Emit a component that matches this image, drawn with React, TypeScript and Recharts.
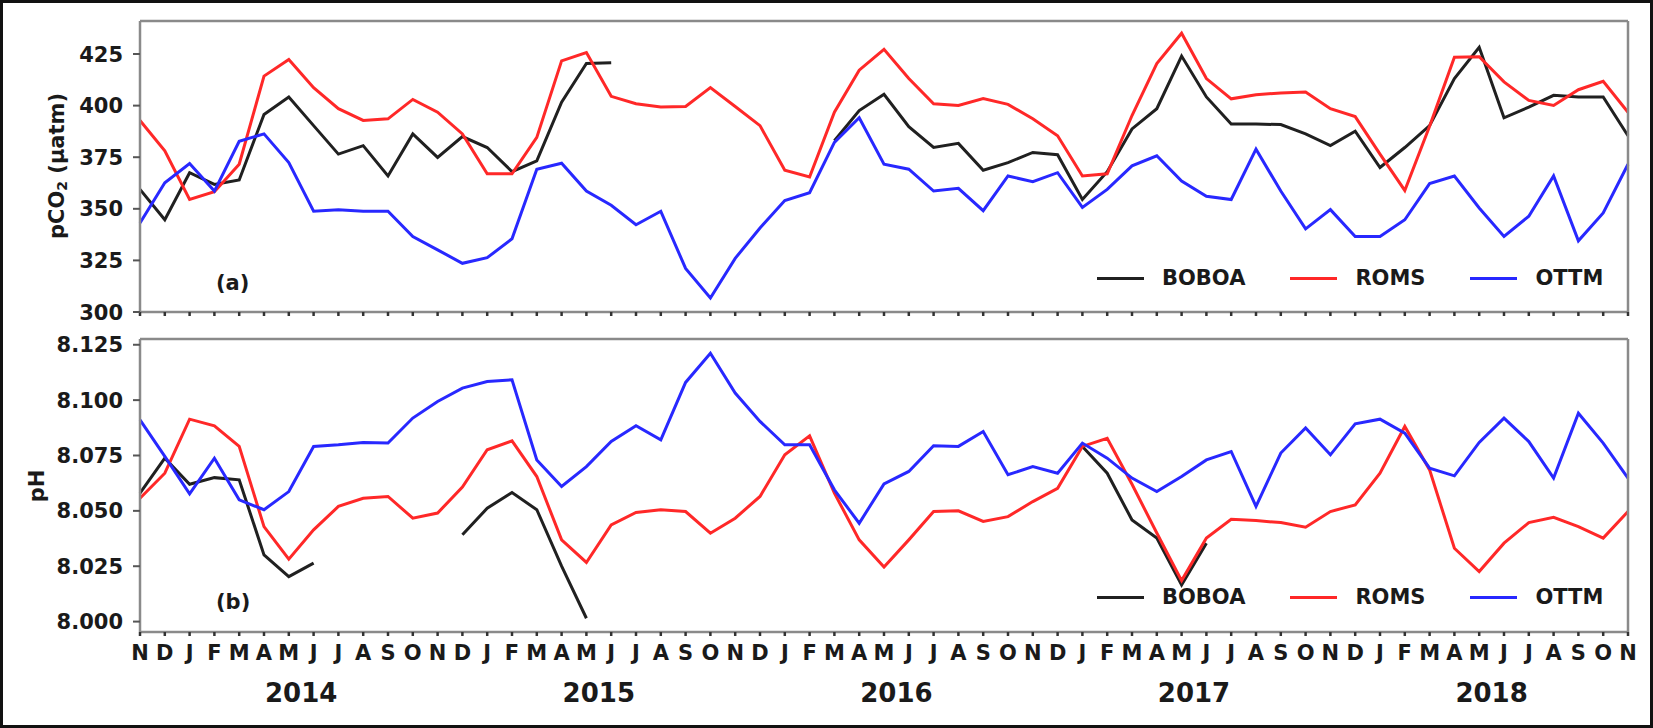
import React from 'react';
import { LineChart, Line, XAxis, YAxis, Legend } from 'recharts';

const MONTHS = [
  'N', 'D',
  'J', 'F', 'M', 'A', 'M', 'J', 'J', 'A', 'S', 'O', 'N', 'D',
  'J', 'F', 'M', 'A', 'M', 'J', 'J', 'A', 'S', 'O', 'N', 'D',
  'J', 'F', 'M', 'A', 'M', 'J', 'J', 'A', 'S', 'O', 'N', 'D',
  'J', 'F', 'M', 'A', 'M', 'J', 'J', 'A', 'S', 'O', 'N', 'D',
  'J', 'F', 'M', 'A', 'M', 'J', 'J', 'A', 'S', 'O', 'N',
];
const YEARS = ['2014', '2015', '2016', '2017', '2018'];
const YEAR_AT = [6, 18, 30, 42, 54];

const PCO2_BOBOA = [
  359.4, 344.7, 367.5, 361.8, 364.0, 395.7, 404.2, 390.3, 376.5, 380.6, 365.9, 386.3, 374.9, 385.0,
  379.7, 368.0, 373.2, 401.7, 420.4, 420.8, null, null, null, null, null, null, null, null,
  383.0, 397.6, 405.5, 389.8, 379.7, 381.7, 368.7, 372.4, 377.3, 376.2, 354.5,
  368.0, 388.7, 398.5, 424.0, 404.2, 391.1, 391.1, 390.8, 386.3, 380.6, 387.6, 370.0,
  379.7, 390.3, 413.1, 428.3, 394.1, 399.3, 405.0, 404.2, 404.2, 385.4,
];
const PCO2_ROMS = [
  392.8, 378.1, 354.5, 358.3, 371.6, 414.3, 422.4, 408.7, 398.5, 392.8, 393.6, 403.0, 396.8, 386.3,
  367.0, 367.0, 384.6, 421.7, 425.7, 404.5, 400.9, 399.3, 399.6, 408.7, 399.6, 390.3, 368.7, 365.4,
  396.8, 417.2, 427.3, 413.1, 400.9, 400.1, 403.4, 400.6, 393.6, 385.4, 365.9,
  367.0, 395.2, 420.4, 435.1, 413.1, 403.3, 405.3, 406.1, 406.6, 398.5, 394.7, 376.5,
  358.9, 390.0, 423.4, 423.7, 411.5, 402.5, 400.1, 407.7, 411.8, 396.8,
];
const PCO2_OTTM = [
  343.1, 362.6, 371.9, 358.6, 382.7, 386.3, 372.4, 348.8, 349.6, 348.8, 348.8, 336.6, 330.1, 323.6,
  326.3, 335.5, 369.2, 372.1, 358.6, 351.7, 342.3, 348.8, 321.1, 306.8, 326.0, 340.7, 354.0, 357.8,
  382.2, 394.1, 371.6, 369.2, 358.6, 359.9, 349.1, 365.9, 363.1, 367.5, 350.7,
  359.4, 370.8, 375.7, 363.5, 356.1, 354.5, 378.9, 358.6, 340.3, 349.6, 336.6, 336.6,
  344.7, 362.2, 365.9, 350.4, 336.6, 346.4, 365.9, 334.5, 348.0, 371.6,
];

const PH_BOBOA = [
  8.058, 8.0738, 8.062, 8.065, 8.064, 8.0301, 8.0203, 8.0264, null, null, null, null, null, 8.0392,
  8.0512, 8.0583, 8.0505, 8.025, 8.0015, null, null, null, null, null, null, null, null, null,
  null, null, null, null, null, null, null, null, null, null, 8.0791,
  8.067, 8.0459, 8.0377, 8.0166, 8.0354, null, null, null, null, null, null, null,
  null, null, null, null, null, null, null, null, null, null,
];
const PH_ROMS = [
  8.0557, 8.067, 8.0914, 8.0884, 8.0791, 8.0429, 8.0282, 8.0414, 8.052, 8.0557, 8.0565, 8.0467, 8.049, 8.0607,
  8.0776, 8.0816, 8.0655, 8.0369, 8.0267, 8.0437, 8.0493, 8.0505, 8.0497, 8.0399, 8.0467, 8.0565, 8.0753, 8.0839,
  8.058, 8.0369, 8.0246, 8.0369, 8.0497, 8.05, 8.0452, 8.0474, 8.0542, 8.0602, 8.0791,
  8.0828, 8.062, 8.040, 8.0185, 8.0377, 8.0462, 8.0456, 8.0447, 8.0426, 8.0497, 8.0527, 8.067,
  8.0881, 8.0685, 8.0331, 8.0226, 8.0354, 8.0447, 8.0471, 8.0429, 8.0377, 8.0497,
];
const PH_OTTM = [
  8.0911, 8.0746, 8.0577, 8.0738, 8.055, 8.0505, 8.0587, 8.0791, 8.0798, 8.0809, 8.0806, 8.0919, 8.0994, 8.1054,
  8.1084, 8.1092, 8.073, 8.061, 8.070, 8.0813, 8.0884, 8.0821, 8.108, 8.1212, 8.1032, 8.0904, 8.0798, 8.0798,
  8.0595, 8.0444, 8.0622, 8.0678, 8.0794, 8.0791, 8.0858, 8.0663, 8.070, 8.067, 8.0806,
  8.0738, 8.0648, 8.0587, 8.0655, 8.073, 8.0768, 8.052, 8.0761, 8.0874, 8.0753, 8.0893, 8.0914,
  8.0851, 8.0693, 8.0658, 8.0809, 8.0919, 8.0813, 8.0648, 8.0941, 8.0806, 8.0648,
];

const PCO2_TICKS = [300, 325, 350, 375, 400, 425];
const PH_TICKS = [8.0, 8.025, 8.05, 8.075, 8.1, 8.125];

const SERIES = [
  { name: 'BOBOA', color: '#202020' },
  { name: 'ROMS', color: '#ff2828' },
  { name: 'OTTM', color: '#2828ff' },
];

const data = MONTHS.map((m, i) => ({
  i,
  m,
  pb: PCO2_BOBOA[i],
  pr: PCO2_ROMS[i],
  po: PCO2_OTTM[i],
  hb: PH_BOBOA[i],
  hr: PH_ROMS[i],
  ho: PH_OTTM[i],
}));
const X_TICKS = data.map((d) => d.i);

const FONT = '"DejaVu Sans", Verdana, sans-serif';
const TXT = '#1a1a1a';
const SPINE = '#8a8a8a';
const PLOT_L = 140;
const PLOT_R = 1628;
const STEP = (PLOT_R - PLOT_L) / (MONTHS.length - 1);

function EmptyTick() {
  return <g />;
}

function MonthTick(props: any) {
  const { x, y, payload } = props;
  const i = payload.value as number;
  const yi = YEAR_AT.indexOf(i);
  return (
    <g>
      <text x={x} y={y + 22} textAnchor="middle" fontFamily={FONT} fontWeight="bold" fontSize={21} fill={TXT}>
        {MONTHS[i]}
      </text>
      {yi >= 0 && (
        <text x={x + STEP / 2} y={y + 64} textAnchor="middle" fontFamily={FONT} fontWeight="bold" fontSize={26} fill={TXT}>
          {YEARS[yi]}
        </text>
      )}
    </g>
  );
}

function makeYTick(digits: number) {
  return (props: any) => {
    const { x, y, payload } = props;
    return (
      <text x={x} y={y} dy="0.36em" textAnchor="end" fontFamily={FONT} fontWeight="bold" fontSize={21} fill={TXT}>
        {Number(payload.value).toFixed(digits)}
      </text>
    );
  };
}

function LegendContent() {
  return (
    <div style={{ display: 'flex', alignItems: 'center', fontFamily: FONT, fontWeight: 'bold', fontSize: 21, color: TXT, whiteSpace: 'nowrap' }}>
      {SERIES.map((s, k) => (
        <div key={s.name} style={{ display: 'flex', alignItems: 'center', marginRight: k < SERIES.length - 1 ? 45 : 0 }}>
          <div style={{ width: 47, height: 3, background: s.color, marginRight: 18 }} />
          <span>{s.name}</span>
        </div>
      ))}
    </div>
  );
}

function PcoLabel(props: any) {
  const cx = 57;
  const cy = 166;
  return (
    <text x={cx} y={cy} transform={`rotate(-90, ${cx}, ${cy})`} textAnchor="middle" dominantBaseline="central" fontFamily={FONT} fontWeight="bold" fontSize={21} fill={TXT}>
      pCO<tspan fontSize={14} dy={5}>2</tspan><tspan dy={-5}> (µatm)</tspan>
    </text>
  );
}

function PhLabel(props: any) {
  const cx = 37;
  const cy = 156;
  return (
    <text x={cx} y={cy} transform={`rotate(-90, ${cx}, ${cy})`} textAnchor="middle" dominantBaseline="central" fontFamily={FONT} fontWeight="bold" fontSize={21} fill={TXT}>
      pH
    </text>
  );
}

const axisLineStyle = { stroke: SPINE, strokeWidth: 2.5 };

function Panel(props: {
  height: number;
  margin: any;
  xHeight: number;
  keys: string[];
  domain: [number, number];
  ticks: number[];
  digits: number;
  yLabel: any;
  monthLabels: boolean;
  legendTop: number;
}) {
  const { height, margin, xHeight, keys, domain, ticks, digits, yLabel, monthLabels, legendTop } = props;
  return (
    <LineChart width={1653} height={height} data={data} margin={margin}>
      <XAxis
        dataKey="i"
        type="number"
        domain={[0, MONTHS.length - 1]}
        ticks={X_TICKS}
        interval={0}
        height={xHeight}
        axisLine={axisLineStyle}
        tickLine={{ stroke: '#333', strokeWidth: 2.5 }}
        tickSize={4}
        tickMargin={2}
        tick={monthLabels ? MonthTick : EmptyTick}
      />
      <XAxis
        xAxisId="top"
        orientation="top"
        dataKey="i"
        type="number"
        domain={[0, MONTHS.length - 1]}
        ticks={[0, MONTHS.length - 1]}
        height={1}
        tick={false}
        tickLine={false}
        axisLine={axisLineStyle}
      />
      <YAxis
        type="number"
        domain={domain}
        ticks={ticks}
        interval={0}
        width={140}
        axisLine={axisLineStyle}
        tickLine={{ stroke: '#555', strokeWidth: 2 }}
        tickSize={7}
        tickMargin={10}
        tick={makeYTick(digits)}
        label={yLabel}
      />
      <YAxis
        yAxisId="right"
        orientation="right"
        type="number"
        domain={domain}
        ticks={[domain[0], domain[1]]}
        width={1}
        tick={false}
        tickLine={false}
        axisLine={axisLineStyle}
      />
      {keys.map((k, idx) => (
        <Line
          key={k}
          dataKey={k}
          name={SERIES[idx].name}
          stroke={SERIES[idx].color}
          strokeWidth={3}
          dot={false}
          activeDot={false}
          connectNulls={false}
          isAnimationActive={false}
        />
      ))}
      <Legend
        layout="horizontal"
        verticalAlign="middle"
        align="center"
        content={LegendContent}
        wrapperStyle={{ left: 1097, top: legendTop - 13, width: 540, height: 26 }}
      />
    </LineChart>
  );
}

export default function App() {
  return (
    <div style={{ position: 'absolute', left: 0, top: 0, width: 1653, height: 728, background: '#fff', overflow: 'hidden' }}>
      <div style={{ position: 'absolute', left: 0, top: 0 }}>
        <Panel
          height={340}
          margin={{ top: 20, right: 24, bottom: 18, left: 0 }}
          xHeight={10}
          keys={['pb', 'pr', 'po']}
          domain={[300, 441]}
          ticks={PCO2_TICKS}
          digits={0}
          yLabel={{ content: PcoLabel }}
          monthLabels={false}
          legendTop={279}
        />
      </div>
      <div style={{ position: 'absolute', left: 0, top: 330 }}>
        <Panel
          height={398}
          margin={{ top: 8, right: 24, bottom: 16, left: 0 }}
          xHeight={80}
          keys={['hb', 'hr', 'ho']}
          domain={[7.9953, 8.1276]}
          ticks={PH_TICKS}
          digits={3}
          yLabel={{ content: PhLabel }}
          monthLabels={true}
          legendTop={268}
        />
      </div>
      <div style={{ position: 'absolute', left: 216, top: 271, fontFamily: FONT, fontWeight: 'bold', fontSize: 21, color: TXT }}>(a)</div>
      <div style={{ position: 'absolute', left: 216, top: 590, fontFamily: FONT, fontWeight: 'bold', fontSize: 21, color: TXT }}>(b)</div>
      <div style={{ position: 'absolute', left: 0, top: 0, width: 1653, height: 728, border: '3px solid #111', boxSizing: 'border-box', pointerEvents: 'none' }} />
    </div>
  );
}
